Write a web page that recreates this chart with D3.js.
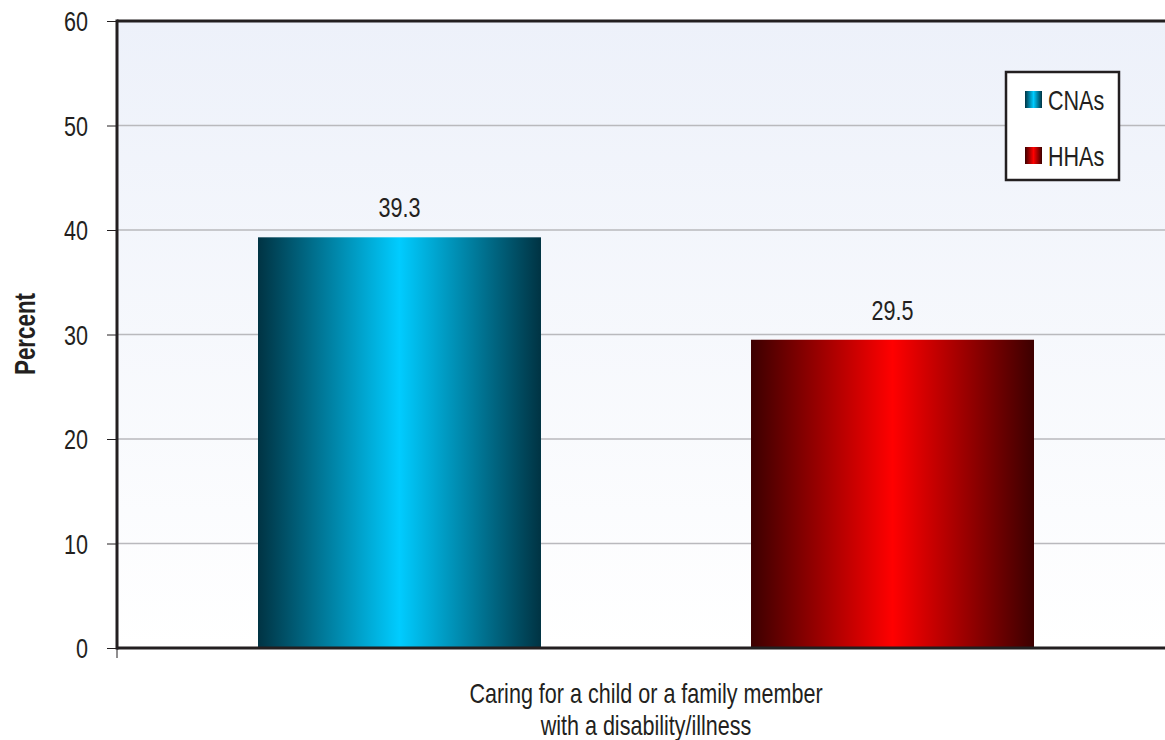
<!DOCTYPE html>
<html><head><meta charset="utf-8">
<script src="https://cdn.jsdelivr.net/npm/d3@7"></script>
<style>
body{margin:0;background:#fff;}
text{font-family:"Liberation Sans",Arial,sans-serif;fill:#231f20;}
</style></head><body>
<svg id="c" width="1165" height="740"></svg>
<script>
const categories = ["Caring for a child or a family member\nwith a disability/illness"];
const seriesNames = ["CNAs", "HHAs"];
const seriesValues = [39.3, 29.5];
const yTicks = [0, 10, 20, 30, 40, 50, 60];

const SX = 0.77, FS = 28;
const svg = d3.select("#c");
const m = {l:117, t:21, r:-10, b:92};
const W = 1165, H = 740;
const iw = W - m.l - m.r, ih = H - m.t - m.b;

// condensed text helper
function ctext(parent, x, y, str, opts={}) {
  const gg = parent.append("g").attr("transform", `translate(${x},${y})${opts.rot?` rotate(${opts.rot})`:""} scale(${SX},1)`);
  const t = gg.append("text").attr("x",0).attr("y",0)
    .attr("font-size", opts.size || FS)
    .attr("text-anchor", opts.anchor || "middle")
    .attr("font-weight", opts.bold ? "bold" : "normal")
    .text(str);
  return t;
}

const defs = svg.append("defs");
const bg = defs.append("linearGradient").attr("id","bg").attr("x1",0).attr("y1",0).attr("x2",0).attr("y2",1);
bg.append("stop").attr("offset","0%").attr("stop-color","#edf1fa");
bg.append("stop").attr("offset","100%").attr("stop-color","#ffffff");

const grads = [["#003343","#00ccff"],["#3c0000","#ff0000"]];
grads.forEach((g,i)=>{
  const lg = defs.append("linearGradient").attr("id","g"+i).attr("x1",0).attr("y1",0).attr("x2",1).attr("y2",0);
  lg.append("stop").attr("offset","0%").attr("stop-color",g[0]);
  lg.append("stop").attr("offset","50%").attr("stop-color",g[1]);
  lg.append("stop").attr("offset","100%").attr("stop-color",g[0]);
});

const g = svg.append("g").attr("transform",`translate(${m.l},${m.t})`);
g.append("rect").attr("width",iw).attr("height",ih).attr("fill","url(#bg)");

const y = d3.scaleLinear().domain([0,60]).range([ih,0]);
const x0 = d3.scaleBand().domain(categories).range([0,iw]);
const x1 = d3.scaleBand().domain(seriesNames).range([0,x0.bandwidth()]).paddingInner(0.426).paddingOuter(0.286);

// gridlines
g.selectAll(".grid").data(yTicks.filter(d=>d>0 && d<60)).enter().append("line")
  .attr("x1",0).attr("x2",iw).attr("y1",d=>y(d)).attr("y2",d=>y(d))
  .attr("stroke","#b9b9bd").attr("stroke-width",1.5);

// bars
categories.forEach(cat=>{
  g.selectAll(".bar").data(seriesNames).enter().append("rect")
    .attr("x",d=>x0(cat)+x1(d)).attr("width",x1.bandwidth())
    .attr("y",(d,i)=>y(seriesValues[i])).attr("height",(d,i)=>ih-y(seriesValues[i]))
    .attr("fill",(d,i)=>`url(#g${i})`);
  seriesNames.forEach((d,i)=>{
    ctext(g, x0(cat)+x1(d)+x1.bandwidth()/2, y(seriesValues[i])-20, seriesValues[i].toFixed(1));
  });
});

// y axis
const ya = d3.axisLeft(y).tickValues(yTicks).tickSize(10).tickFormat(()=> "");
const yg = g.append("g").call(ya);
yg.select(".domain").remove();
yg.selectAll(".tick line").attr("stroke","#231f20").attr("stroke-width",1);
yTicks.forEach(v=>ctext(g, -29, y(v)+10, d3.format("d")(v), {anchor:"end"}));

// frame
g.append("line").attr("x1",0).attr("x2",iw).attr("y1",0).attr("y2",0).attr("stroke","#231f20").attr("stroke-width",3);
g.append("line").attr("x1",0).attr("x2",iw).attr("y1",ih).attr("y2",ih).attr("stroke","#231f20").attr("stroke-width",3);
g.append("line").attr("x1",0).attr("x2",0).attr("y1",-1.5).attr("y2",ih+1.5).attr("stroke","#231f20").attr("stroke-width",3);
g.append("line").attr("x1",0).attr("x2",0).attr("y1",ih).attr("y2",ih+10).attr("stroke","#231f20").attr("stroke-width",1);

// x label
categories.forEach(cat=>{
  cat.split("\n").forEach((l,i)=>ctext(g, x0(cat)+x0.bandwidth()/2, ih+55+i*32, l));
});

// y title
ctext(svg, 35, 334, "Percent", {rot:-90, bold:true, size:29});

// legend
const lg = svg.append("g").attr("transform","translate(1006,72)");
lg.append("rect").attr("width",113).attr("height",108).attr("fill","#fff").attr("stroke","#231f20").attr("stroke-width",2.5);
seriesNames.forEach((s,i)=>{
  lg.append("rect").attr("x",19).attr("y",19+i*56).attr("width",17).attr("height",17).attr("fill",`url(#g${i})`);
  ctext(lg, 42, 38+i*56, s, {anchor:"start"});
});
</script>
</body></html>
